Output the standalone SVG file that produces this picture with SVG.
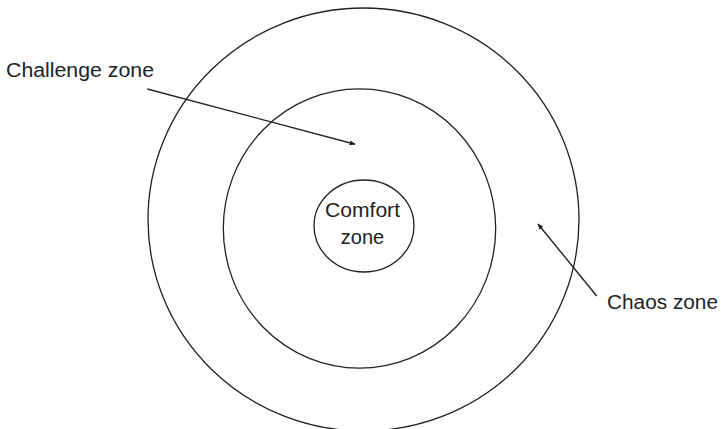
<svg xmlns="http://www.w3.org/2000/svg" width="721" height="429" viewBox="0 0 721 429">
<style>
.ring{fill:none;stroke:#222;stroke-width:1.3}
.lbl{font-family:"Liberation Sans",Arial,sans-serif;font-size:20px;fill:#222}
.arr{stroke:#222;stroke-width:1.4;fill:none;marker-end:url(#ah)}
</style>
<defs>
<marker id="ah" viewBox="0 0 10 10" refX="9" refY="5" markerWidth="6" markerHeight="6" markerUnits="userSpaceOnUse" orient="auto">
<path d="M0,1 L10,5 L0,9 z" fill="#222"/>
</marker>
</defs>
<rect width="721" height="429" fill="#fff"/>
<g id="chaos">
<ellipse class="ring" cx="363.5" cy="219.5" rx="215.5" ry="211.5"/>
<text class="lbl" x="607" y="309" textLength="111" lengthAdjust="spacingAndGlyphs">Chaos zone</text>
</g>
<g id="challenge">
<ellipse class="ring" cx="359.5" cy="228.5" rx="136.2" ry="139.6"/>
<text class="lbl" x="6" y="76.7" textLength="148" lengthAdjust="spacingAndGlyphs">Challenge zone</text>
</g>
<g id="comfort">
<ellipse class="ring" cx="364" cy="226" rx="50" ry="46"/>
<text class="lbl" x="325" y="217.3" textLength="75" lengthAdjust="spacingAndGlyphs">Comfort</text>
<text class="lbl" x="362.5" y="244" text-anchor="middle">zone</text>
</g>
<g id="connectors">
<line class="arr" x1="147.3" y1="89" x2="355" y2="144.2"/>
<line class="arr" x1="596.7" y1="296" x2="538" y2="224"/>
</g>
</svg>
